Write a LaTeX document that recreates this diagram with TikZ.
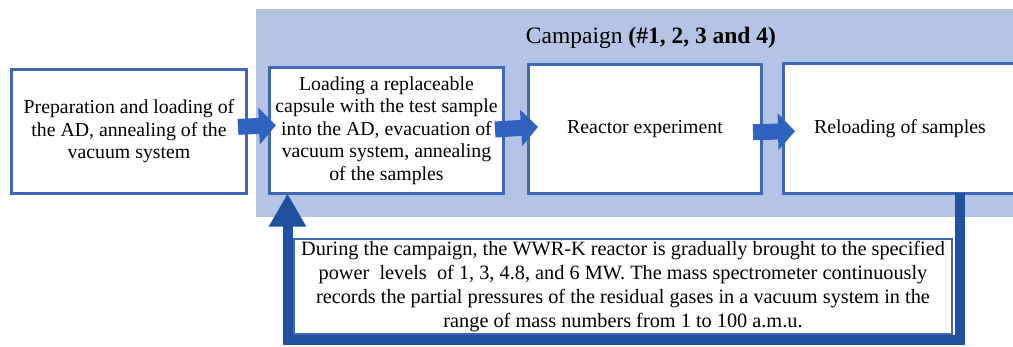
\documentclass[tikz,border=0pt]{standalone}
\usepackage{fontspec}
\setmainfont{Liberation Serif}
\usepackage{tikz}
\usetikzlibrary{arrows.meta,positioning}
\definecolor{campaign-fill}{RGB}{180,196,228}
\definecolor{stage-line}{RGB}{62,104,182}
\definecolor{flow-blue}{RGB}{48,98,192}
\definecolor{loop-blue}{RGB}{32,80,160}
\tikzset{
  stage-box/.style={draw=stage-line, fill=white, line width=3pt, outer sep=0pt,
    align=center, inner sep=2pt, font=\fontsize{19.8}{22.4}\selectfont},
  stage-arrow/.style={draw=flow-blue, line width=16pt, -{Triangle[length=17pt,width=36pt]}},
  note-box/.style={draw=stage-line, fill=white, line width=2pt, outer sep=0pt,
    align=center, inner sep=2pt, font=\fontsize{20.3}{24.3}\selectfont},
  feedback-line/.style={draw=loop-blue, line width=10pt, -{Triangle[length=33pt,width=35pt]}}
}

\begin{document}
\begin{tikzpicture}[x=1pt, y=1pt]
  \useasboundingbox (0,0) rectangle (1013,346);
  % shaded area for the campaign steps
  \node[fill=campaign-fill, inner sep=0pt, outer sep=0pt, minimum width=757pt, minimum height=208pt] (campaign) at (634.5,233) {};
  \node[font=\fontsize{23.5}{26}\selectfont] (campaign-title) at (651,308) {Campaign \textbf{(\#1, 2, 3 and 4)}};

  \node[stage-box, minimum width=235pt, minimum height=124pt] (prep) at (129,214.5)
    {Preparation and loading of\\the AD, annealing of the\\vacuum system};
  \node[stage-box, minimum width=234pt, minimum height=126pt] (load) at (386.5,215.5)
    {Loading a replaceable\\capsule with the test sample\\into the AD, evacuation of\\vacuum system, annealing\\of the samples};
  \node[stage-box, minimum width=233pt, minimum height=129pt] (react) at (645,217) {Reactor experiment};
  \node[stage-box, minimum width=233pt, minimum height=130pt] (reload) at (900,217.5) {Reloading of samples};

  \draw[stage-arrow, shorten <=-8.5pt, shorten >=-6.5pt] ([yshift=5pt]prep.east) -- ([yshift=5pt]load.west);
  \draw[stage-arrow, shorten <=-8.5pt, shorten >=-9.5pt] ([yshift=1.5pt]load.east) -- ([yshift=1.5pt]react.west);
  \draw[stage-arrow, shorten <=-8.5pt, shorten >=-11.5pt] ([yshift=-3pt]react.east) -- ([yshift=-3pt]reload.west);

  \node[note-box, minimum width=658pt, minimum height=95pt] (note) at (623,59.5)
    {During the campaign, the WWR-K reactor is gradually brought to the specified\\
     power\ \ levels\ \ of 1, 3, 4.8, and 6 MW. The mass spectrometer continuously\\
     records the partial pressures of the residual gases in a vacuum system in the\\
     range of mass numbers from 1 to 100 a.m.u.};

  % return loop back to the loading step
  \coordinate (loop-start) at ([xshift=-56.5pt]reload.south east);
  \coordinate (loop-end) at ([xshift=-99pt]load.south);
  \draw[feedback-line] (loop-start) |- ([yshift=-6pt]note.south) -| (loop-end);
\end{tikzpicture}
\end{document}
